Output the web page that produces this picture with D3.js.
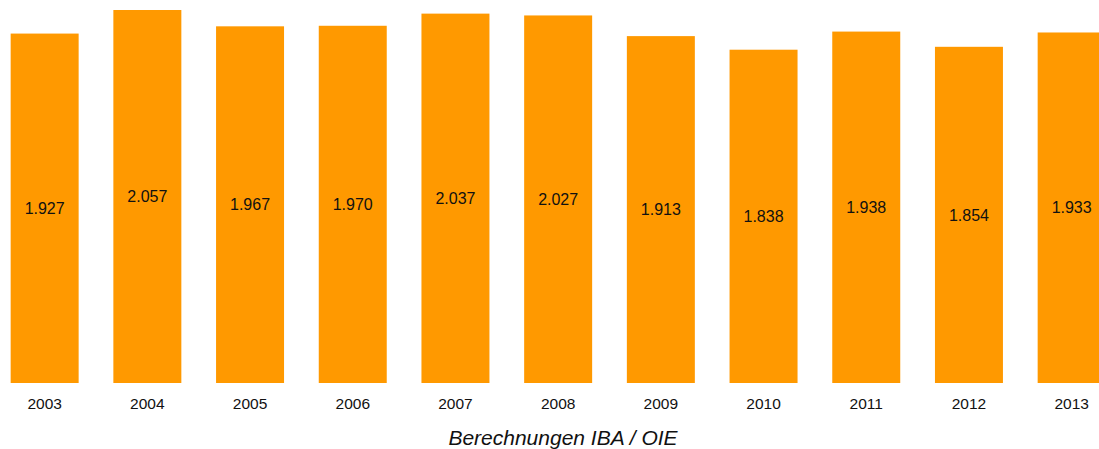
<!DOCTYPE html>
<html>
<head>
<meta charset="utf-8">
<script src="https://cdn.jsdelivr.net/npm/d3@7"></script>
<style>
  body { margin: 0; background: #fff; }
  svg { display: block; font-family: "Liberation Sans", Arial, sans-serif; }
</style>
</head>
<body>
<svg id="chart"></svg>
<script>
const years = ['2003', '2004', '2005', '2006', '2007', '2008', '2009', '2010', '2011', '2012', '2013'];
const values = [1927, 2057, 1967, 1970, 2037, 2027, 1913, 1838, 1938, 1854, 1933];
const sourceNote = 'Berechnungen IBA / OIE';

const width = 1099;
const height = 449;
const baseline = 383;

const fmt = d3.format(',');
const deFormat = v => fmt(v).replace(/,/g, '.');

const svg = d3.select('#chart')
  .attr('width', width)
  .attr('height', height);

const x = d3.scaleBand()
  .domain(years)
  .range([-6.7, 1123])
  .paddingInner(0.338)
  .paddingOuter(0.169);

const y = d3.scaleLinear()
  .domain([0, 2057])
  .range([baseline, 10]);

const data = years.map((yr, i) => ({ year: yr, value: values[i] }));

svg.selectAll('rect.bar')
  .data(data)
  .enter()
  .append('rect')
  .attr('class', 'bar')
  .attr('x', d => x(d.year))
  .attr('y', d => y(d.value))
  .attr('width', x.bandwidth())
  .attr('height', d => baseline - y(d.value))
  .attr('fill', '#ff9900');

// value labels in middle of each bar
svg.selectAll('text.val')
  .data(data)
  .enter()
  .append('text')
  .attr('class', 'val')
  .attr('x', d => x(d.year) + x.bandwidth() / 2)
  .attr('y', d => (y(d.value) + baseline) / 2)
  .attr('dy', '0.35em')
  .attr('text-anchor', 'middle')
  .attr('font-size', 16)
  .attr('fill', '#111')
  .text(d => deFormat(d.value));

// category axis, no line / ticks
const xAxis = svg.append('g')
  .attr('transform', `translate(0,${baseline})`)
  .call(d3.axisBottom(x).tickSize(0).tickPadding(15));
xAxis.select('.domain').remove();
xAxis.selectAll('text')
  .attr('font-size', 15.5)
  .attr('font-family', '"Liberation Sans", Arial, sans-serif')
  .attr('fill', '#111');

svg.append('text')
  .attr('x', 563)
  .attr('y', 445)
  .attr('text-anchor', 'middle')
  .attr('font-size', 21)
  .attr('font-style', 'italic')
  .attr('fill', '#111')
  .text(sourceNote);
</script>
</body>
</html>
